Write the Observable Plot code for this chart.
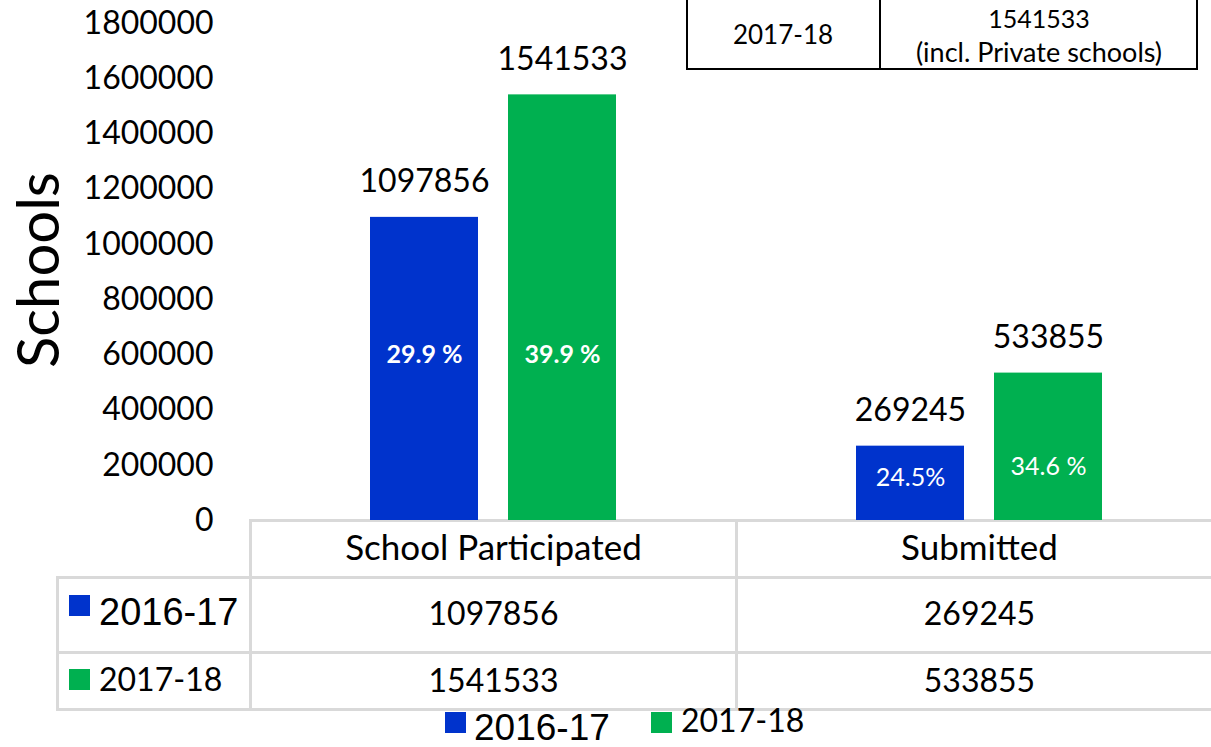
<!DOCTYPE html>
<html>
<head>
<meta charset="utf-8">
<script src="https://cdn.jsdelivr.net/npm/d3@7"></script>
<script src="https://cdn.jsdelivr.net/npm/@observablehq/plot@0.6"></script>
<style>
  html, body { margin: 0; padding: 0; background: #fff; overflow: hidden; }
  #wrap { position: relative; width: 1211px; height: 747px; overflow: hidden; font-family: Lato, sans-serif; color: #000; }
  #chart { position: absolute; left: 0; top: 0; }
  .hl { position: absolute; height: 3px; background: #d9d9d9; }
  .vl { position: absolute; width: 3px; background: #d9d9d9; }
  .abs { position: absolute; white-space: nowrap; line-height: 1; }
  .sq { position: absolute; width: 21px; height: 21px; }
</style>
</head>
<body>
<div id="wrap"></div>
<script>
// ---- data ----
const categories = ["School Participated", "Submitted"];
const years = ["2016-17", "2017-18"];
const values2016 = [1097856, 269245];
const values2017 = [1541533, 533855];
const pctLabels2016 = ["29.9 %", "24.5%"];
const pctLabels2017 = ["39.9 %", "34.6 %"];
const pctAnchor2016 = [600000, 155000];
const pctAnchor2017 = [600000, 195000];
const yTicks = [0, 200000, 400000, 600000, 800000, 1000000, 1200000, 1400000, 1600000, 1800000];
const yearColors = ["#0033cc", "#00b050"];
const yTitle = "Schools";
const noteYear = "2017-18";
const noteValue = "1541533";
const noteText = "(incl. Private schools)";

const rows = [];
categories.forEach((c, i) => {
  rows.push({category: c, year: years[0], value: values2016[i], pct: pctLabels2016[i], anchor: pctAnchor2016[i], bold: i === 0});
  rows.push({category: c, year: years[1], value: values2017[i], pct: pctLabels2017[i], anchor: pctAnchor2017[i], bold: i === 0});
});

const wrap = document.getElementById("wrap");

// ---- table grid (under the chart) ----
function hl(x1, x2, y) { const d = document.createElement("div"); d.className = "hl"; d.style.left = x1 + "px"; d.style.width = (x2 - x1) + "px"; d.style.top = (y - 1.5) + "px"; wrap.appendChild(d); }
function vl(x, y1, y2) { const d = document.createElement("div"); d.className = "vl"; d.style.left = (x - 1.5) + "px"; d.style.top = y1 + "px"; d.style.height = (y2 - y1) + "px"; wrap.appendChild(d); }
hl(250, 1211, 520);
hl(57, 1211, 577);
hl(57, 1211, 652);
hl(57, 1211, 709);
vl(250, 519, 711);
vl(736, 519, 711);
vl(57, 576, 711);

// ---- chart ----
const chart = Plot.plot({
  width: 1211,
  height: 712,
  marginTop: 23,
  marginBottom: 192,
  marginLeft: 250,
  marginRight: 0,
  style: {fontFamily: "Lato, sans-serif", fontSize: "32px", color: "#000", background: "transparent", overflow: "visible"},
  fx: {domain: categories, range: [250, 1222], padding: 0, axis: null},
  x: {domain: years, paddingInner: 0.2166, paddingOuter: 0.86, axis: null},
  y: {domain: [0, 1800000], axis: null},
  color: {domain: years, range: yearColors},
  marks: [
    Plot.axisY({ticks: yTicks, tickFormat: d => String(d), tickSize: 0, tickPadding: 37, fontSize: 32, label: null, fill: "#000"}),
    Plot.barY(rows, {fx: "category", x: "year", y: "value", fill: "year"}),
    Plot.text(rows, {fx: "category", x: "year", y: "value", text: d => String(d.value), lineAnchor: "bottom", dy: -25, fontSize: 32, fill: "#000"}),
    Plot.text(rows.filter(d => d.bold), {fx: "category", x: "year", y: "anchor", text: "pct", fill: "#fff", fontSize: 25, fontWeight: "bold"}),
    Plot.text(rows.filter(d => !d.bold), {fx: "category", x: "year", y: "anchor", text: "pct", fill: "#fff", fontSize: 25}),
    Plot.text(categories, {fx: d => d, text: d => d, frameAnchor: "bottom", lineAnchor: "middle", dy: 28, fontSize: 35, fill: "#000"}),
    Plot.text(categories, {fx: d => d, text: (d, i) => String(values2016[i]), frameAnchor: "bottom", lineAnchor: "middle", dy: 94, fontSize: 32, fill: "#000"}),
    Plot.text(categories, {fx: d => d, text: (d, i) => String(values2017[i]), frameAnchor: "bottom", lineAnchor: "middle", dy: 161, fontSize: 32, fill: "#000"})
  ]
});
chart.id = "chart";
wrap.appendChild(chart);

// ---- y title ----
const yt = document.createElement("div");
yt.className = "abs";
yt.textContent = yTitle;
yt.style.fontSize = "58px";
yt.style.left = "37px";
yt.style.top = "270px";
yt.style.transform = "translate(-50%, -50%) rotate(-90deg)";
wrap.appendChild(yt);

// ---- table row headers (legend keys) ----
function sq(x, y, color) { const d = document.createElement("div"); d.className = "sq"; d.style.left = x + "px"; d.style.top = y + "px"; d.style.background = color; wrap.appendChild(d); }
function txt(s, x, yBaseline, size, family) {
  const d = document.createElement("div"); d.className = "abs"; d.textContent = s;
  d.style.fontSize = size + "px"; d.style.fontFamily = family; d.style.left = x + "px";
  d.style.top = (yBaseline - size * 0.92) + "px"; wrap.appendChild(d); return d;
}
sq(69, 595, yearColors[0]);
txt(years[0], 99, 628, 38, "'Liberation Sans', Arial, sans-serif");
sq(69, 669, yearColors[1]);
txt(years[1], 99, 692, 32, "Lato, sans-serif");

// ---- bottom legend ----
sq(445, 712, yearColors[0]);
txt(years[0], 474, 743, 37, "'Liberation Sans', Arial, sans-serif");
sq(651, 712, yearColors[1]);
txt(years[1], 681, 733, 32, "Lato, sans-serif");

// ---- top-right note box ----
const box = document.createElement("div");
box.style.position = "absolute";
box.style.left = "686px"; box.style.top = "-10px";
box.style.width = "508px"; box.style.height = "76px";
box.style.border = "2px solid #000";
wrap.appendChild(box);
const div = document.createElement("div");
div.style.position = "absolute"; div.style.left = "879px"; div.style.top = "-10px";
div.style.width = "2px"; div.style.height = "78px"; div.style.background = "#000";
wrap.appendChild(div);
function ctxt(s, cx, cy, size) {
  const d = document.createElement("div"); d.className = "abs"; d.textContent = s;
  d.style.fontSize = size + "px"; d.style.left = cx + "px"; d.style.top = cy + "px";
  d.style.transform = "translate(-50%, -50%)"; wrap.appendChild(d);
}
ctxt(noteYear, 783, 34, 26);
ctxt(noteValue, 1039, 18, 25);
ctxt(noteText, 1039, 51, 27);
</script>
</body>
</html>
